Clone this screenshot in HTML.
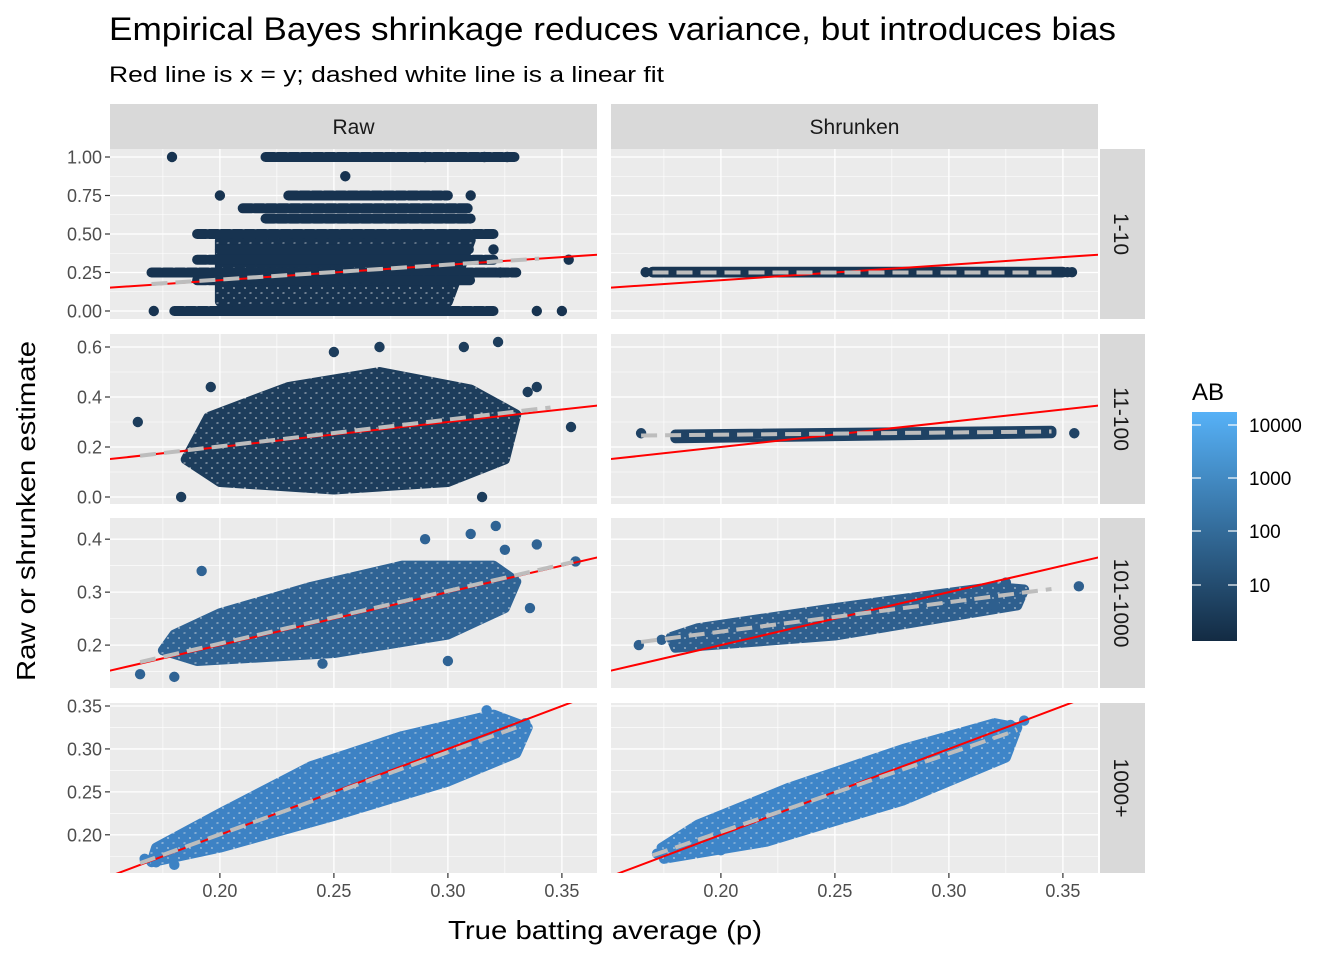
<!DOCTYPE html>
<html><head><meta charset="utf-8">
<style>
body{margin:0;background:#fff;}
svg text{font-family:"Liberation Sans",Arial,sans-serif;}
</style></head>
<body>
<svg id="chart" width="1344" height="960" viewBox="0 0 1344 960" xmlns="http://www.w3.org/2000/svg">
<defs id="defs">
<linearGradient id="abgrad" x1="0" y1="1" x2="0" y2="0">
<stop offset="0" stop-color="#132B43"/><stop offset="1" stop-color="#56B1F7"/>
</linearGradient>
</defs>
<text x="109" y="40" font-size="32" textLength="1007" lengthAdjust="spacingAndGlyphs" fill="#000">Empirical Bayes shrinkage reduces variance, but introduces bias</text>
<text x="109" y="82" font-size="22" textLength="555" lengthAdjust="spacingAndGlyphs" fill="#000">Red line is x = y; dashed white line is a linear fit</text>
<text transform="translate(35,511) rotate(-90)" text-anchor="middle" font-size="26" textLength="340" lengthAdjust="spacingAndGlyphs">Raw or shrunken estimate</text>
<text x="448" y="939" font-size="26" textLength="314" lengthAdjust="spacingAndGlyphs">True batting average (p)</text>
<g id="panels"></g>
<g>
<text x="1192" y="400" font-size="24">AB</text>
<rect x="1192" y="412" width="45" height="229" fill="url(#abgrad)"/>
<g id="legticks"></g>
</g>
</svg>
<script>
// ---- data ----
const xTicks=[0.20,0.25,0.30,0.35];
const xTickLabels=["0.20","0.25","0.30","0.35"];
const colNames=["Raw","Shrunken"];
const rowNames=["1-10","11-100","101-1000","1000+"];
const rowYTicks=[[0,0.25,0.5,0.75,1],[0,0.2,0.4,0.6],[0.2,0.3,0.4],[0.2,0.25,0.3,0.35]];
const rowYLabels=[["0.00","0.25","0.50","0.75","1.00"],["0.0","0.2","0.4","0.6"],["0.2","0.3","0.4"],["0.20","0.25","0.30","0.35"]];
const rowYMin=[-0.052,-0.028,0.119,0.1555];
const rowYMax=[1.052,0.652,0.44,0.3535];
const rowColors=[["#173350","#183552"],["#1d3d5c","#1f4264"],["#2f6394","#2e5f8e"],["#3d82c4","#3e85c8"]];
const fitRaw=[[0.17,0.175,0.34,0.34],[0.165,0.165,0.345,0.358],[0.165,0.168,0.355,0.357],[0.165,0.167,0.33,0.325]];
const fitShr=[[0.17,0.25,0.345,0.25],[0.165,0.246,0.345,0.262],[0.165,0.206,0.345,0.306],[0.17,0.176,0.33,0.322]];
const cloudRaw=[
 [[0.20,0.06],[0.30,0.06],[0.31,0.46],[0.20,0.46]],
 [[0.185,0.15],[0.20,0.06],[0.25,0.03],[0.30,0.06],[0.325,0.15],[0.33,0.33],[0.31,0.43],[0.27,0.50],[0.23,0.44],[0.195,0.32]],
 [[0.175,0.19],[0.19,0.17],[0.25,0.185],[0.30,0.22],[0.325,0.27],[0.33,0.32],[0.32,0.35],[0.28,0.35],[0.24,0.31],[0.20,0.26],[0.18,0.22]],
 [[0.17,0.168],[0.20,0.185],[0.25,0.222],[0.30,0.262],[0.33,0.295],[0.335,0.325],[0.32,0.34],[0.28,0.315],[0.24,0.28],[0.20,0.225],[0.172,0.185]]
];
const cloudShr=[
 [[0.17,0.25],[0.35,0.25],[0.35,0.255],[0.17,0.255]],
 [[0.18,0.235],[0.345,0.255],[0.345,0.265],[0.18,0.25]],
 [[0.18,0.195],[0.25,0.218],[0.33,0.275],[0.333,0.305],[0.32,0.31],[0.25,0.27],[0.19,0.232],[0.178,0.215]],
 [[0.175,0.172],[0.22,0.192],[0.28,0.24],[0.325,0.29],[0.33,0.325],[0.32,0.33],[0.28,0.3],[0.23,0.255],[0.19,0.212],[0.174,0.185]]
];
const bandsRaw1=[[0,0.18,0.32],[1,0.22,0.33],[0.75,0.23,0.30],[0.667,0.21,0.31],[0.6,0.22,0.31],[0.5,0.19,0.32],[0.4,0.20,0.31],[0.333,0.19,0.32],[0.25,0.17,0.33],[0.2,0.19,0.31]];
const outRaw=[
 [[0.179,1],[0.29,1],[0.316,1],[0.326,1],[0.171,0],[0.35,0],[0.339,0],[0.255,0.875],[0.353,0.333],[0.323,0.25],[0.31,0.75],[0.32,0.4],[0.2,0.75]],
 [[0.164,0.3],[0.354,0.28],[0.322,0.62],[0.315,0],[0.183,0],[0.339,0.44],[0.196,0.44],[0.27,0.6],[0.25,0.58],[0.307,0.6],[0.335,0.42]],
 [[0.356,0.358],[0.321,0.425],[0.339,0.39],[0.165,0.145],[0.192,0.34],[0.29,0.4],[0.325,0.38],[0.3,0.17],[0.336,0.27],[0.245,0.165],[0.18,0.14],[0.31,0.41]],
 [[0.167,0.172],[0.18,0.165],[0.317,0.345],[0.334,0.33],[0.172,0.168]]
];
const outShr=[
 [[0.167,0.252],[0.352,0.252],[0.354,0.252],[0.34,0.252]],
 [[0.165,0.255],[0.355,0.255],[0.34,0.262]],
 [[0.164,0.2],[0.357,0.311],[0.174,0.21],[0.325,0.318],[0.32,0.275]],
 [[0.172,0.178],[0.333,0.333],[0.327,0.328],[0.2,0.182]]
];
const legendVals=["10000","1000","100","10"];
// ---- layout ----
const NS="http://www.w3.org/2000/svg";
const colX=[110,611], PW=487;
const rowY=[149,334,518,703], PH=170;
const XMIN=0.1518, XMAX=0.3654;
function mk(tag,attrs,parent){const e=document.createElementNS(NS,tag);for(const k in attrs)e.setAttribute(k,attrs[k]);parent.appendChild(e);return e;}
const root=document.getElementById('panels');
const defs=document.getElementById('defs');
function sx(c,v){return colX[c]+(v-XMIN)/(XMAX-XMIN)*PW;}
function sy(r,v){return rowY[r]+(rowYMax[r]-v)/(rowYMax[r]-rowYMin[r])*PH;}
let pid=0;
function dotPattern(col){
 const id='pat'+(pid++);
 const p=mk('pattern',{id:id,patternUnits:'userSpaceOnUse',width:11,height:10},defs);
 mk('circle',{cx:3,cy:3,r:4.6,fill:col},p);
 mk('circle',{cx:8.5,cy:8,r:4.6,fill:col},p);
 mk('circle',{cx:8.5,cy:-2,r:4.6,fill:col},p);
 mk('circle',{cx:-2.5,cy:8,r:4.6,fill:col},p);
 mk('circle',{cx:14,cy:3,r:4.6,fill:col},p);
 mk('circle',{cx:3,cy:13,r:4.6,fill:col},p);
 return 'url(#'+id+')';
}
for(let c=0;c<2;c++){
 const s=mk('rect',{x:colX[c],y:104,width:PW,height:45,fill:'#D9D9D9'},root);
 
 
 const t=mk('text',{x:colX[c]+PW/2,y:134,'text-anchor':'middle','font-size':21,fill:'#1A1A1A'},root);
 t.textContent=colNames[c];
 
 
}
for(let r=0;r<4;r++){
 const s=mk('rect',{x:1100,y:rowY[r],width:45,height:PH,fill:'#D9D9D9'},root);
 
 
 const t=mk('text',{transform:`translate(1114,${rowY[r]+PH/2}) rotate(90)`,'text-anchor':'middle','font-size':21,fill:'#1A1A1A'},root);
 t.textContent=rowNames[r];
 
 
}
let cid=0;
for(let r=0;r<4;r++){for(let c=0;c<2;c++){
 const g=mk('g',{},root);
 
 
 const x0=colX[c],y0=rowY[r];
 mk('rect',{x:x0,y:y0,width:PW,height:PH,fill:'#EBEBEB'},g);
 const clip=mk('clipPath',{id:'cp'+cid},g);mk('rect',{x:x0,y:y0,width:PW,height:PH},clip);
 const inner=mk('g',{'clip-path':`url(#cp${cid})`},g);cid++;
 for(let v=0.175;v<0.37;v+=0.05){mk('line',{x1:sx(c,v),x2:sx(c,v),y1:y0,y2:y0+PH,stroke:'#fff','stroke-width':0.6},inner);}
 const yt=rowYTicks[r];const step=yt[1]-yt[0];
 for(let v=yt[0]-step/2;v<=yt[yt.length-1]+step;v+=step){mk('line',{x1:x0,x2:x0+PW,y1:sy(r,v),y2:sy(r,v),stroke:'#fff','stroke-width':0.6},inner);}
 xTicks.forEach(v=>mk('line',{x1:sx(c,v),x2:sx(c,v),y1:y0,y2:y0+PH,stroke:'#fff','stroke-width':1.3},inner));
 yt.forEach(v=>mk('line',{x1:x0,x2:x0+PW,y1:sy(r,v),y2:sy(r,v),stroke:'#fff','stroke-width':1.3},inner));
 const col=rowColors[r][c];
 const pat=dotPattern(col);
 const cloud=c===0?cloudRaw[r]:cloudShr[r];
 const thin=(c===1&&r<2);
 const poly=mk('polygon',{points:cloud.map(p=>sx(c,p[0])+','+sy(r,p[1])).join(' '),fill:thin?col:pat,stroke:thin?col:pat,'stroke-width':10,'stroke-linejoin':'round'},inner);
 
 
 if(r===0&&c===0){bandsRaw1.forEach(b=>{
  const l=mk('line',{x1:sx(c,b[1]),x2:sx(c,b[2]),y1:sy(r,b[0]),y2:sy(r,b[0]),stroke:col,'stroke-width':10,'stroke-linecap':'round','stroke-dasharray':'9,3'},inner);
  
  
 });}
 (c===0?outRaw[r]:outShr[r]).forEach(p=>{
  const pt=mk('circle',{cx:sx(c,p[0]),cy:sy(r,p[1]),r:5.2,fill:col},inner);
  
  
 });
 const red=mk('line',{x1:sx(c,0.1),y1:sy(r,0.1),x2:sx(c,0.45),y2:sy(r,0.45),stroke:'#FF0000','stroke-width':2},inner);
 
 
 const f=c===0?fitRaw[r]:fitShr[r];
 const fl=mk('line',{x1:sx(c,f[0]),y1:sy(r,f[1]),x2:sx(c,f[2]),y2:sy(r,f[3]),stroke:'#BDBDBD','stroke-width':4,'stroke-dasharray':'16,8'},inner);
 
 
 if(c===0){yt.forEach((v,i)=>{
  mk('line',{x1:x0-5,x2:x0,y1:sy(r,v),y2:sy(r,v),stroke:'#333','stroke-width':1.2},g);
  const t=mk('text',{x:x0-8,y:sy(r,v)+6.5,'text-anchor':'end','font-size':18,fill:'#4D4D4D'},g);
  t.textContent=rowYLabels[r][i];
  
  
 });}
 if(r===3){xTicks.forEach((v,i)=>{
  mk('line',{x1:sx(c,v),x2:sx(c,v),y1:y0+PH,y2:y0+PH+5,stroke:'#333','stroke-width':1.2},g);
  const t=mk('text',{x:sx(c,v),y:y0+PH+24,'text-anchor':'middle','font-size':18,fill:'#4D4D4D'},g);
  t.textContent=xTickLabels[i];
  
  
 });}
}}
const lt=document.getElementById('legticks');
const legY=[425,478,531,585];
legendVals.forEach((v,i)=>{
 mk('line',{x1:1192,x2:1201,y1:legY[i],y2:legY[i],stroke:'#fff','stroke-width':1.2},lt);
 mk('line',{x1:1228,x2:1237,y1:legY[i],y2:legY[i],stroke:'#fff','stroke-width':1.2},lt);
 const t=mk('text',{x:1249,y:legY[i]+7,'font-size':19,fill:'#000'},lt);
 t.textContent=v;
 
 
});
</script>
</body></html>
